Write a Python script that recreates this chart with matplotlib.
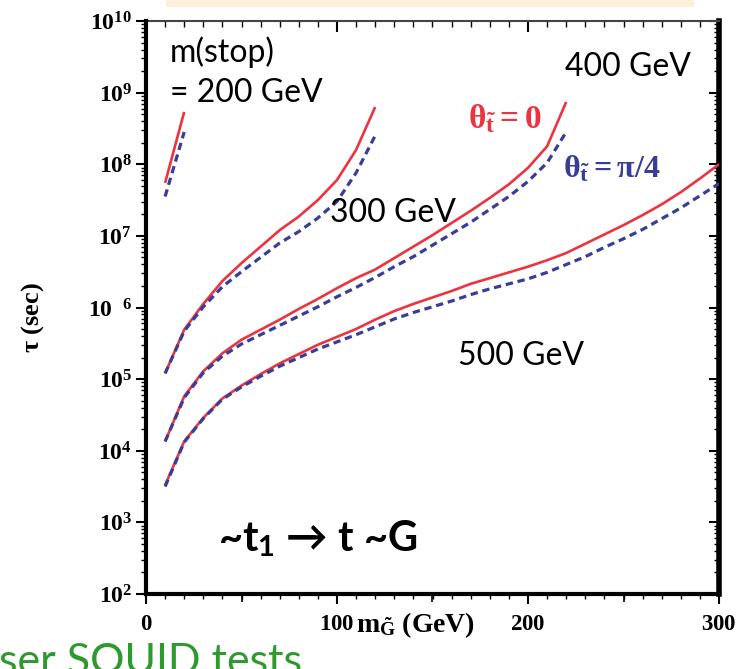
import numpy as np
import matplotlib
matplotlib.use("Agg")
import matplotlib.pyplot as plt
from matplotlib.patches import Rectangle
from matplotlib.ticker import FixedLocator, NullFormatter

# all math text in bold Times-like serif, sans pieces in bold Lato
plt.rcParams["mathtext.fontset"] = "custom"
plt.rcParams["mathtext.rm"] = "Liberation Serif:bold"
plt.rcParams["mathtext.it"] = "Liberation Serif:bold"
plt.rcParams["mathtext.bf"] = "Liberation Serif:bold"
plt.rcParams["mathtext.sf"] = "Lato:bold"

# gravitino mass (GeV) and log10 of stop lifetime (sec)
m_200 = [10, 20]
lt_200_th0 = [7.74, 8.73]
lt_200_thpi4 = [7.55, 8.45]

m_300 = [10, 20, 30, 40, 50, 60, 70, 80, 90, 100, 110, 120]
lt_300_th0 = [5.08, 5.69, 6.05, 6.37, 6.62, 6.85, 7.08, 7.27, 7.50, 7.78, 8.20, 8.80]
lt_300_thpi4 = [5.08, 5.67, 6.01, 6.29, 6.50, 6.70, 6.90, 7.06, 7.25, 7.48, 7.88, 8.40]

m_400 = [10, 20, 30, 40, 50, 60, 70, 80, 90, 100, 110, 120, 130, 140, 150,
         160, 170, 180, 190, 200, 210, 220]
lt_400_th0 = [4.13, 4.76, 5.11, 5.36, 5.55, 5.69, 5.83, 5.98, 6.12, 6.27, 6.41,
              6.53, 6.69, 6.85, 7.01, 7.18, 7.35, 7.53, 7.72, 7.95, 8.25, 8.87]
lt_400_thpi4 = [4.13, 4.74, 5.09, 5.32, 5.49, 5.62, 5.75, 5.88, 6.01, 6.15, 6.28,
                6.42, 6.57, 6.71, 6.87, 7.03, 7.19, 7.37, 7.55, 7.76, 8.02, 8.45]

m_500 = [10, 20, 30, 40, 50, 60, 70, 80, 90, 100, 110, 120, 130, 140, 150,
         160, 170, 180, 190, 200, 210, 220, 230, 240, 250, 260, 270, 280, 290, 300]
lt_500_th0 = [3.52, 4.13, 4.46, 4.73, 4.91, 5.07, 5.22, 5.35, 5.48, 5.59, 5.70,
              5.83, 5.95, 6.05, 6.14, 6.23, 6.33, 6.41, 6.49, 6.57, 6.66, 6.76,
              6.89, 7.02, 7.15, 7.29, 7.44, 7.61, 7.80, 8.00]
lt_500_thpi4 = [3.50, 4.12, 4.45, 4.72, 4.89, 5.04, 5.18, 5.30, 5.42, 5.52, 5.62,
                5.73, 5.84, 5.93, 6.01, 6.09, 6.18, 6.26, 6.33, 6.40, 6.49, 6.60,
                6.71, 6.84, 6.96, 7.09, 7.24, 7.39, 7.56, 7.73]

curves = [
    (m_200, lt_200_th0, lt_200_thpi4),
    (m_300, lt_300_th0, lt_300_thpi4),
    (m_400, lt_400_th0, lt_400_thpi4),
    (m_500, lt_500_th0, lt_500_thpi4),
]

ytick_vals = [1e2, 1e3, 1e4, 1e5, 1e6, 1e7, 1e8, 1e9, 1e10]
ytick_labels = [r"$10^{2}$", r"$10^{3}$", r"$10^{4}$", r"$10^{5}$", r"$10\;\;{}^{6}$",
                r"$10^{7}$", r"$10^{8}$", r"$10^{9}$", r"$10^{10}$"]
xtick_vals = [0, 100, 200, 300]

RED = "#ec3340"
BLUE = "#3a3d98"

fig = plt.figure(figsize=(7.37, 6.69), dpi=100)
ax = fig.add_axes([146 / 737, 1 - 594 / 669, 573 / 737, 573 / 669])

for m, th0, thpi4 in curves:
    ax.plot(m, 10.0 ** np.array(th0), color=RED, lw=1.9, solid_capstyle="butt")
    ax.plot(m, 10.0 ** np.array(thpi4), color=BLUE, lw=2.3, dashes=(2.3, 1.5))

ax.set_yscale("log")
ax.set_xlim(0, 300)
ax.set_ylim(1e2, 1e10)

# ticks: outward on left/bottom, inward on right/top
ax.set_yticks(ytick_vals)
ax.set_yticklabels(ytick_labels)
yminor = [s * 10.0 ** e for e in range(2, 10) for s in range(2, 10)]
ax.yaxis.set_minor_locator(FixedLocator(yminor))
ax.yaxis.set_minor_formatter(NullFormatter())
ax.set_xticks(xtick_vals)
ax.set_xticklabels([r"$%d$" % v for v in xtick_vals])
ax.xaxis.set_minor_locator(FixedLocator(np.arange(0, 301, 10)))
ax.tick_params(which="major", direction="out", length=7, width=1.5, pad=3)
ax.tick_params(which="minor", direction="out", length=3.5, width=1.0)
ax.tick_params(axis="y", labelsize=17)
ax.tick_params(axis="x", labelsize=16.5, pad=6)

sec_y = ax.secondary_yaxis("right")
sec_y.set_yticks(ytick_vals)
sec_y.yaxis.set_minor_locator(FixedLocator(yminor))
sec_y.tick_params(which="major", direction="in", length=7, width=1.5, labelright=False)
sec_y.tick_params(which="minor", direction="in", length=3.5, width=1.0)
sec_y.yaxis.set_minor_formatter(NullFormatter())
sec_y.spines["right"].set_linewidth(4)

sec_x = ax.secondary_xaxis("top")
sec_x.set_xticks(xtick_vals)
sec_x.xaxis.set_minor_locator(FixedLocator(np.arange(0, 301, 10)))
sec_x.tick_params(which="major", direction="in", length=8, width=1.5, labeltop=False)
sec_x.tick_params(which="minor", direction="in", length=4, width=1.0)
sec_x.spines["top"].set_linewidth(1.5)
sec_x.spines["top"].set_color("#444444")

# medium ticks at the 50s on the bottom axis
mid_x = ax.secondary_xaxis("bottom")
mid_x.set_xticks([50, 150, 250])
mid_x.tick_params(direction="out", length=5.5, width=1.2, labelbottom=False)
mid_x.spines["bottom"].set_visible(False)

ax.spines["left"].set_linewidth(3)
ax.spines["bottom"].set_linewidth(3)
ax.spines["right"].set_visible(False)
ax.spines["top"].set_visible(False)

ax.text(0.47, -0.0665, r"$m_{\tilde{G}}$ (GeV)", transform=ax.transAxes,
        ha="center", va="baseline", fontsize=20, family="Liberation Serif", fontweight="bold")
fig.text(33 / 737, 1 - 318 / 669, r"$\tau$ (sec)", rotation=90, ha="center", va="center",
         fontsize=19, family="Liberation Serif", fontweight="bold")

# curve annotations
lab = dict(family="Lato", fontsize=23, color="black")
ax.text(12.6, 10 ** 9.43, "m(stop)", **lab)
ax.text(12.6, 10 ** 8.87, "= 200 GeV", **lab)
ax.text(219.4, 10 ** 9.235, "400 GeV", **lab)
ax.text(96.3, 10 ** 7.196, "300 GeV", **lab)
ax.text(163.4, 10 ** 5.198, "500 GeV", **lab)
ax.text(37.7, 10 ** 2.60, "~t$_{\\mathsf{1}}$ \u2192 t ~G", family=["Lato", "DejaVu Sans"],
        fontsize=30, fontweight="bold", color="black")
ax.text(168.6, 10 ** 8.51, r"$\theta_{\tilde{t}}= 0$", fontsize=24, color=RED)
ax.text(218.3, 10 ** 7.82, r"$\theta_{\tilde{t}}= \pi/4$", fontsize=23, color=BLUE)

# pale banner at the top edge and caption below
fig.add_artist(Rectangle((166 / 737, 1 - 7 / 669), 528 / 737, 7 / 669,
                         transform=fig.transFigure, color="#fdf0d8", lw=0))
fig.text(-0.002, -5 / 669, "ser SQUID tests", family="Lato", fontsize=31,
         color="#2e9a2e", ha="left", va="baseline")

fig.savefig("out.png", dpi=100)
